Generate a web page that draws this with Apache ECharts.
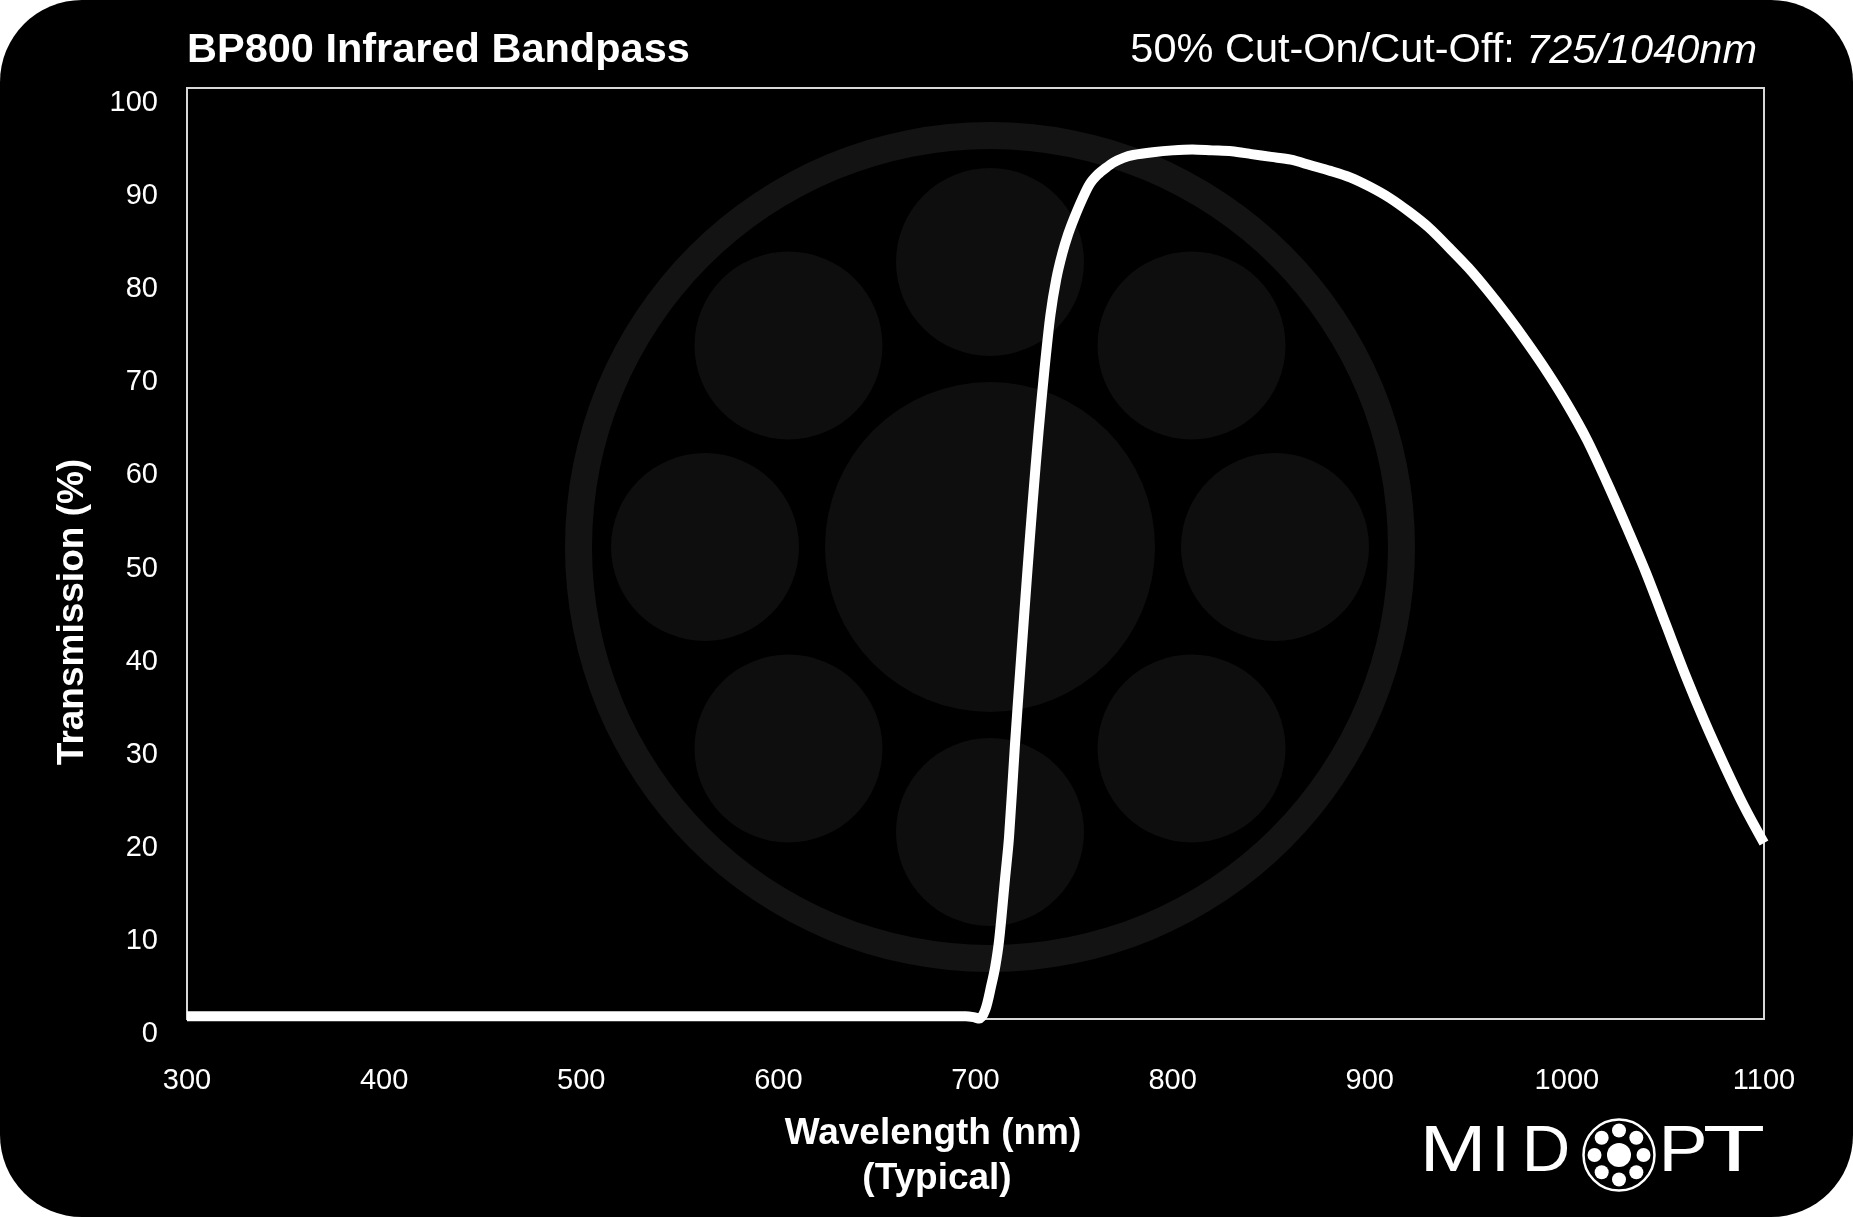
<!DOCTYPE html>
<html>
<head>
<meta charset="utf-8">
<script src="https://cdn.jsdelivr.net/npm/echarts@6/dist/echarts.min.js"></script>
<style>
  html, body { margin: 0; padding: 0; background: #ffffff; }
  #chart { width: 1853px; height: 1217px; }
</style>
</head>
<body>
<div id="chart"></div>
<script>
// ---- Data ----
const chartTitle = 'BP800 Infrared Bandpass';
const cutLabel = '50% Cut-On/Cut-Off: ';
const cutValues = '725/1040nm';
const xAxisTitle = 'Wavelength (nm)';
const xAxisSubtitle = '(Typical)';
const yAxisTitle = 'Transmission (%)';
const logoLetters = ['M', 'I', 'D', 'P', 'T'];

const wavelengths = [300, 350, 400, 450, 500, 550, 600, 650, 690, 695, 699, 702, 705, 708, 710, 712, 715, 717, 720, 723, 726, 729, 732, 735, 738, 741, 744, 747, 750, 754, 758, 762, 766, 770, 775, 780, 790, 800, 810, 820, 830, 840, 850, 860, 870, 880, 890, 900, 910, 920, 930, 940, 950, 960, 970, 980, 990, 1000, 1010, 1020, 1030, 1040, 1050, 1060, 1070, 1080, 1090, 1100];
const transmission = [0.3, 0.3, 0.3, 0.3, 0.3, 0.3, 0.3, 0.3, 0.3, 0.3, 0.2, 0.05, 1.0, 3.6, 5.6, 8.5, 15.1, 19.5, 29.4, 38.4, 47.2, 55.5, 63.1, 69.8, 75.6, 79.5, 82.2, 84.3, 86.0, 88.0, 89.7, 90.7, 91.4, 92.0, 92.5, 92.8, 93.1, 93.3, 93.4, 93.3, 93.2, 92.9, 92.6, 92.3, 91.7, 91.1, 90.4, 89.4, 88.2, 86.7, 85.0, 82.9, 80.7, 78.2, 75.5, 72.6, 69.5, 66.1, 62.3, 57.8, 53.0, 48.0, 42.5, 37.0, 31.9, 27.2, 22.8, 18.9];

const seriesData = wavelengths.map((w, i) => [w, transmission[i]]);

// ---- Decoration (watermark + logo) ----
const FONT = '"Liberation Sans", Arial, Helvetica, sans-serif';
const graphics = [];
graphics.push({ type: 'rect', z: -20, silent: true,
  shape: { x: 0, y: 0, width: 1853, height: 1217, r: 82 }, style: { fill: '#000000' } });
// watermark
const wmX = 990, wmY = 547;
graphics.push({ type: 'ring', z: -10, silent: true, shape: { cx: wmX, cy: wmY, r: 425, r0: 398 }, style: { fill: '#131313' } });
graphics.push({ type: 'circle', z: -10, silent: true, shape: { cx: wmX, cy: wmY, r: 165 }, style: { fill: '#0e0e0e' } });
for (let k = 0; k < 8; k++) {
  const a = k * Math.PI / 4;
  graphics.push({ type: 'circle', z: -10, silent: true,
    shape: { cx: wmX + 285 * Math.cos(a), cy: wmY + 285 * Math.sin(a), r: 94 }, style: { fill: '#0e0e0e' } });
}
// axis titles
graphics.push({ type: 'text', x: 73, y: 612, rotation: Math.PI / 2, silent: true,
  style: { text: yAxisTitle, fill: '#ffffff', fontSize: 37, fontWeight: 'bold', fontFamily: FONT,
    align: 'center', verticalAlign: 'middle', textAlign: 'center', textVerticalAlign: 'middle' } });
graphics.push({ type: 'text', x: 933, y: 1134, silent: true,
  style: { text: xAxisTitle, fill: '#ffffff', fontSize: 37, fontWeight: 'bold', fontFamily: FONT,
    align: 'center', verticalAlign: 'middle', textAlign: 'center', textVerticalAlign: 'middle' } });
graphics.push({ type: 'text', x: 937, y: 1179, silent: true,
  style: { text: xAxisSubtitle, fill: '#ffffff', fontSize: 37, fontWeight: 'bold', fontFamily: FONT,
    align: 'center', verticalAlign: 'middle', textAlign: 'center', textVerticalAlign: 'middle' } });
// logo letters
const logoPos = [[1453, 1.25], [1500.5, 1.0], [1546, 1.05], [1683, 1.15], [1734, 1.6]];
logoLetters.forEach((ch, i) => {
  graphics.push({ type: 'text', x: logoPos[i][0], y: 1153, scaleX: logoPos[i][1], silent: true,
    style: { text: ch, fill: '#ffffff', fontSize: 64, fontFamily: FONT,
      align: 'center', verticalAlign: 'middle', textAlign: 'center', textVerticalAlign: 'middle' } });
});
const lgX = 1619, lgY = 1155;
graphics.push({ type: 'circle', silent: true, shape: { cx: lgX, cy: lgY, r: 35.5 }, style: { fill: 'none', stroke: '#ffffff', lineWidth: 2.5 } });
graphics.push({ type: 'circle', silent: true, shape: { cx: lgX, cy: lgY, r: 12 }, style: { fill: '#ffffff' } });
for (let k = 0; k < 8; k++) {
  const a = k * Math.PI / 4;
  graphics.push({ type: 'circle', silent: true,
    shape: { cx: lgX + 24.5 * Math.cos(a), cy: lgY + 24.5 * Math.sin(a), r: 7 }, style: { fill: '#ffffff' } });
}

const chart = echarts.init(document.getElementById('chart'), null, { renderer: 'canvas' });
chart.setOption({
  animation: false,
  backgroundColor: 'transparent',
  textStyle: { fontFamily: FONT },
  title: [
    { text: chartTitle, left: 187, top: 26, padding: 0,
      textStyle: { color: '#ffffff', fontSize: 41.5, fontWeight: 'bold', fontFamily: FONT, lineHeight: 50 } },
    { text: '{a|' + cutLabel + '}{b|' + cutValues + '}', right: 96, top: 26, padding: 0,
      textStyle: { color: '#ffffff', fontFamily: FONT, fontWeight: 'normal', lineHeight: 50,
        rich: {
          a: { color: '#ffffff', fontSize: 41.5, fontWeight: 'normal', fontFamily: FONT, lineHeight: 50 },
          b: { color: '#ffffff', fontSize: 41.5, fontWeight: 'normal', fontStyle: 'italic', fontFamily: FONT, lineHeight: 50 }
        } } }
  ],
  grid: { left: 187, right: 89, top: 88, bottom: 198, show: true, borderColor: '#d8d8d8', borderWidth: 2, backgroundColor: 'transparent' },
  xAxis: {
    type: 'value', min: 300, max: 1100, interval: 100,
    axisLine: { show: false }, axisTick: { show: false }, splitLine: { show: false },
    axisLabel: { color: '#ffffff', fontSize: 29, fontFamily: FONT, margin: 47, formatter: v => String(v) }
  },
  yAxis: {
    type: 'value', min: 0, max: 100, interval: 10,
    axisLine: { show: false }, axisTick: { show: false }, splitLine: { show: false },
    axisLabel: { color: '#ffffff', fontSize: 29, fontFamily: FONT, margin: 29, verticalAlign: 'top', lineHeight: 30, formatter: v => String(v) }
  },
  graphic: { elements: graphics },
  series: [{
    type: 'line',
    data: seriesData,
    showSymbol: false,
    smooth: 0.3,
    lineStyle: { color: '#ffffff', width: 10, join: 'round', cap: 'butt' },
    itemStyle: { color: '#ffffff' },
    z: 5
  }]
});
</script>
</body>
</html>
